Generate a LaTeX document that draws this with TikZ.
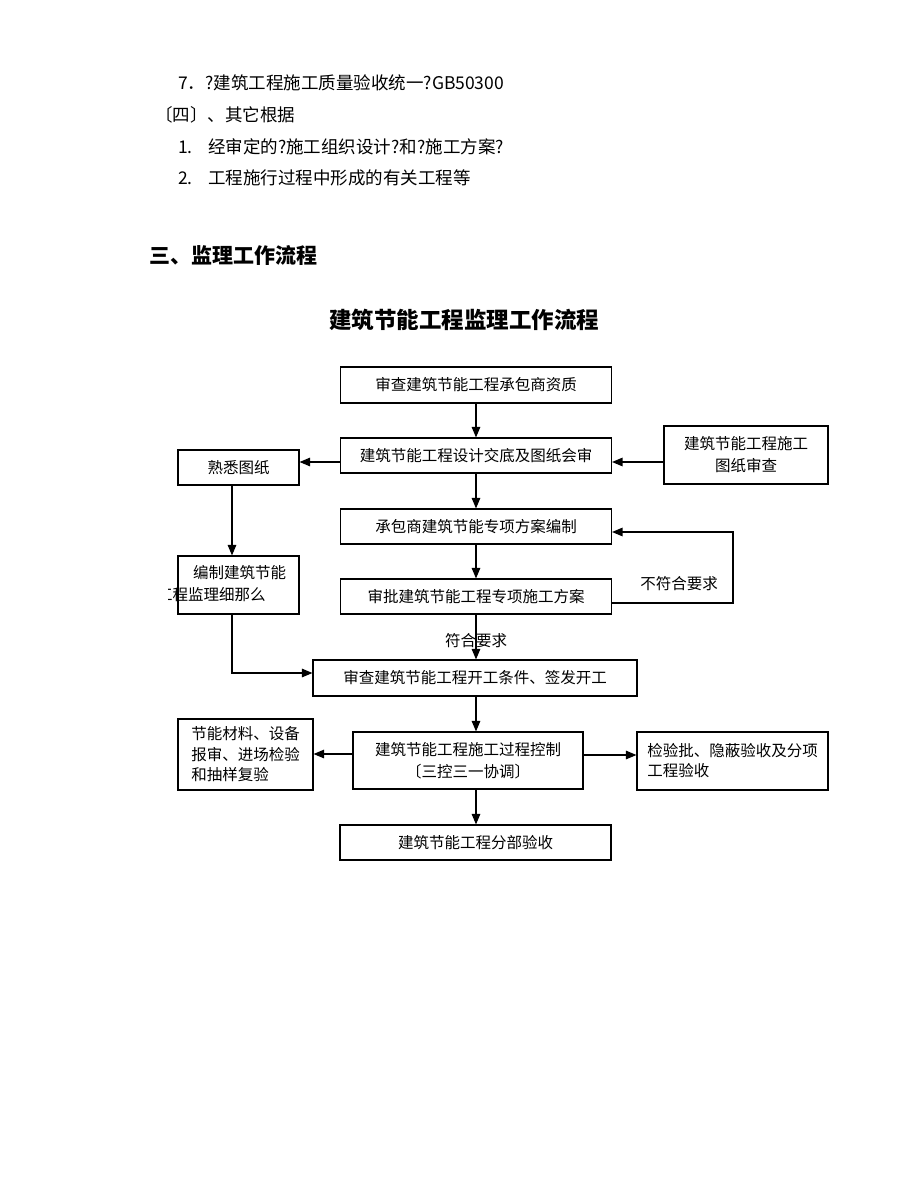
\documentclass[tikz,border=0pt]{standalone}
\usepackage{fontspec}
\setmainfont{Noto Sans CJK SC}
\usepackage{tikz}
\usetikzlibrary{arrows.meta}
\newcommand{\boxfont}{\fontsize{15.5}{22}\selectfont}
\newcommand{\bodyfont}{\fontsize{17.5}{22}\selectfont}
\tikzstyle{flowbox}=[rectangle, draw, line width=1.1pt, inner sep=0pt, font=\boxfont, align=center]
\tikzstyle{flow}=[-{Triangle[length=10.5pt,width=8.5pt]}, line width=1.2pt]
\tikzstyle{bodytext}=[anchor=west, inner sep=0pt, font=\bodyfont]
\tikzstyle{flowlabel}=[inner sep=0pt, font=\boxfont]

\begin{document}
\begin{tikzpicture}[x=1pt,y=-1pt]
  \useasboundingbox (0,0) rectangle (920,1191);
  \node[bodytext] (item7) at (178,83) {7．?建筑工程施工质量验收统一?GB50300};
  \node[bodytext] (other) at (155,115) {〔四〕、其它根据};
  \node[bodytext] (item1) at (178,147) {\makebox[30pt][l]{1.}经审定的?施工组织设计?和?施工方案?};
  \node[bodytext] (item2) at (178,178) {\makebox[30pt][l]{2.}工程施行过程中形成的有关工程等};
  \node[anchor=west, inner sep=0pt, font=\fontsize{21}{24}\selectfont\bfseries] (section) at (149,255) {三、监理工作流程};
  \node[inner sep=0pt, font=\fontsize{22.5}{26}\selectfont\bfseries] (title) at (464,320) {建筑节能工程监理工作流程};

  \node[flowbox, minimum width=271pt, minimum height=36pt] (zizhi) at (476,385) {审查建筑节能工程承包商资质};
  \node[flowbox, minimum width=271pt, minimum height=35pt] (jiaodi) at (476,455.5) {建筑节能工程设计交底及图纸会审};
  \node[flowbox, minimum width=121pt, minimum height=35pt] (shuxi) at (238.5,467.5) {熟悉图纸};
  \node[flowbox, minimum width=164pt, minimum height=58pt] (tuzhi) at (746,455) {建筑节能工程施工\\图纸审查};
  \node[flowbox, minimum width=271pt, minimum height=35pt] (bianzhi) at (476,526.5) {承包商建筑节能专项方案编制};
  \node[flowbox, minimum width=271pt, minimum height=35pt] (shenpi) at (476,596.5) {审批建筑节能工程专项施工方案};
  \node[flowbox, minimum width=121pt, minimum height=58pt] (xize) at (238.5,585) {};
  \begin{scope}
    \clip (168,550) rectangle (300,620);
    \node[anchor=west, inner sep=0pt, font=\boxfont, align=left] (xizetext) at (157,584) {\hspace*{36pt}编制建筑节能\\工程监理细那么};
  \end{scope}
  \node[flowbox, minimum width=324pt, minimum height=36pt] (kaigong) at (475,678) {审查建筑节能工程开工条件、签发开工};
  \node[flowbox, minimum width=230pt, minimum height=57pt] (kongzhi) at (468,760.5) {建筑节能工程施工过程控制\\〔三控三一协调〕};
  \node[flowbox, minimum width=135pt, minimum height=71pt, align=left, font=\fontsize{15.5}{20.5}\selectfont] (cailiao) at (245.5,754.5) {节能材料、设备\\报审、进场检验\\和抽样复验};
  \node[flowbox, minimum width=191pt, minimum height=58pt, align=left, font=\fontsize{15.5}{20}\selectfont] (jianyan) at (732.5,761) {检验批、隐蔽验收及分项\\工程验收};
  \node[flowbox, minimum width=271pt, minimum height=35pt] (fenbu) at (475.5,842.5) {建筑节能工程分部验收};

  \draw[flow] (zizhi) -- (jiaodi);
  \draw[flow] ([yshift=-6.5pt]jiaodi.west) -- ([yshift=-6.5pt]jiaodi.west -| shuxi.east);
  \draw[flow] ([yshift=-7pt]tuzhi.west) -- ([yshift=-7pt]tuzhi.west -| jiaodi.east);
  \draw[flow] (jiaodi) -- (bianzhi);
  \draw[flow] (bianzhi) -- (shenpi);
  \draw[flow] ([yshift=-6.5pt]shenpi.east) -- ++(121,0) |- ([yshift=-5.5pt]bianzhi.east);
  \node[flowlabel] (buhege) at (679,584) {不符合要求};
  \draw[flow] (shenpi.south) -- (shenpi.south |- kaigong.north);
  \node[flowlabel] (hege) at (476,641) {符合要求};
  \draw[flow] ([xshift=-6.5pt]shuxi.south) -- ([xshift=-6.5pt]shuxi.south |- xize.north);
  \draw[flow] ([xshift=-6.5pt]xize.south) |- ([yshift=5pt]kaigong.west);
  \draw[flow] (shenpi.south |- kaigong.south) -- (shenpi.south |- kongzhi.north);
  \draw[flow] ([yshift=6.5pt]kongzhi.west) -- ([yshift=6.5pt]kongzhi.west -| cailiao.east);
  \draw[flow] ([yshift=5.5pt]kongzhi.east) -- ([yshift=5.5pt]kongzhi.east -| jianyan.west);
  \draw[flow] (shenpi.south |- kongzhi.south) -- (shenpi.south |- fenbu.north);
\end{tikzpicture}
\end{document}
